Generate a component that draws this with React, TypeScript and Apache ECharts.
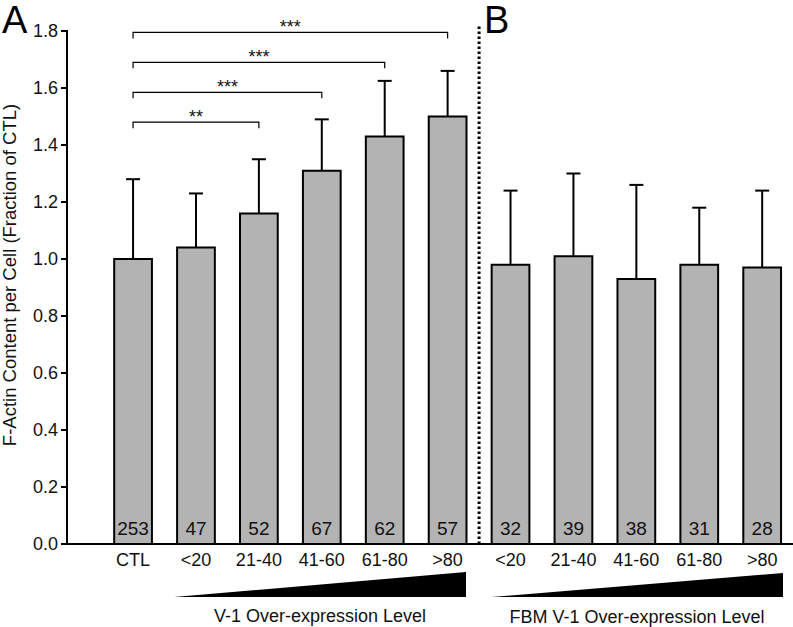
import React, { useEffect, useRef } from "react";
import * as echarts from "echarts";

// ---- data ----
const categories = ["CTL", "<20", "21-40", "41-60", "61-80", ">80", "<20", "21-40", "41-60", "61-80", ">80"];
const meanValues = [1.0, 1.04, 1.16, 1.31, 1.43, 1.5, 0.98, 1.01, 0.93, 0.98, 0.97];
const errorTops = [1.28, 1.23, 1.35, 1.49, 1.625, 1.66, 1.24, 1.3, 1.26, 1.18, 1.24];
const cellCounts = [253, 47, 52, 67, 62, 57, 32, 39, 38, 31, 28];
const bracketFrom = [0, 0, 0, 0];
const bracketTo = [2, 3, 4, 5];
const bracketLevel = [1.48, 1.585, 1.69, 1.795];
const bracketLabels = ["**", "***", "***", "***"];
const panelDivider = [5.5];
const panelLabels = ["A", "B"];
const groupTitles = ["V-1 Over-expression Level", "FBM V-1 Over-expression Level"];
const yAxisTitle = "F-Actin Content per Cell (Fraction of CTL)";

const X_MIN = -1.05;
const X_MAX = 10.49;
const Y_MIN = 0;
const Y_MAX = 1.8;

const FONT = '"Liberation Sans", Arial, Helvetica, sans-serif';

export default function App() {
  const ref = useRef<HTMLDivElement>(null);

  useEffect(() => {
    document.body.style.margin = "0";
    document.body.style.overflow = "hidden";
    if (!ref.current) return;
    const chart = echarts.init(ref.current, undefined, { renderer: "svg" });

    const barData = categories.map((_, i) => [i, meanValues[i], errorTops[i], cellCounts[i]]);
    const bracketData = bracketFrom.map((f, i) => [f, bracketTo[i], bracketLevel[i]]);

    const option: any = {
      animation: false,
      backgroundColor: "#ffffff",
      grid: { left: 67, right: 0, top: 31, bottom: 83, containLabel: false },
      xAxis: {
        type: "value",
        min: X_MIN,
        max: X_MAX,
        splitLine: { show: false },
        axisTick: { show: false },
        axisLine: { show: true, onZero: false, lineStyle: { color: "#000", width: 2 } },
        axisLabel: {
          customValues: categories.map((_, i) => i),
          formatter: (v: number) => categories[Math.round(v)] ?? "",
          fontSize: 18,
          fontFamily: FONT,
          color: "#111",
          margin: 7,
        },
      },
      yAxis: {
        type: "value",
        min: Y_MIN,
        max: Y_MAX,
        interval: 0.2,
        splitLine: { show: false },
        axisLine: { show: true, onZero: false, lineStyle: { color: "#000", width: 2 } },
        axisTick: { show: true, length: 6, lineStyle: { color: "#000", width: 2 } },
        axisLabel: {
          formatter: (v: number) => v.toFixed(1),
          fontSize: 18,
          fontFamily: FONT,
          color: "#111",
          margin: 9,
        },
      },
      series: [
        {
          type: "custom",
          name: "yAxisLine",
          data: [[X_MIN, Y_MIN]],
          clip: false,
          silent: true,
          renderItem: (params: any, api: any) => {
            const p0 = api.coord([X_MIN, Y_MIN]);
            const p1 = api.coord([X_MIN, Y_MAX]);
            return {
              type: "line",
              shape: { x1: p0[0], y1: p0[1] + 1, x2: p1[0], y2: p1[1] - 1 },
              style: { stroke: "#000", lineWidth: 2 },
            };
          },
        },
        {
          type: "custom",
          name: "bars",
          data: barData,
          clip: false,
          renderItem: (params: any, api: any) => {
            const idx = api.value(0);
            const val = api.value(1);
            const err = api.value(2);
            const n = api.value(3);
            const base = api.coord([idx, 0]);
            const top = api.coord([idx, val]);
            const et = api.coord([idx, err]);
            const w = api.size([0.6, 0])[0];
            const cap = 7;
            return {
              type: "group",
              children: [
                {
                  type: "line",
                  shape: { x1: top[0], y1: top[1], x2: et[0], y2: et[1] },
                  style: { stroke: "#000", lineWidth: 2 },
                },
                {
                  type: "line",
                  shape: { x1: et[0] - cap, y1: et[1], x2: et[0] + cap, y2: et[1] },
                  style: { stroke: "#000", lineWidth: 2 },
                },
                {
                  type: "rect",
                  shape: { x: base[0] - w / 2, y: top[1], width: w, height: base[1] - top[1] },
                  style: { fill: "#b3b3b3", stroke: "#000", lineWidth: 2 },
                },
                {
                  type: "text",
                  x: base[0],
                  y: base[1] - 16,
                  style: {
                    text: String(n),
                    align: "center",
                    verticalAlign: "middle",
                    fontSize: 19,
                    fontFamily: FONT,
                    fill: "#111",
                  },
                },
              ],
            };
          },
        },
        {
          type: "custom",
          name: "significance",
          data: bracketData,
          clip: false,
          renderItem: (params: any, api: any) => {
            const a = api.coord([api.value(0), api.value(2)]);
            const b = api.coord([api.value(1), api.value(2)]);
            const drop = 6;
            return {
              type: "group",
              children: [
                {
                  type: "polyline",
                  shape: {
                    points: [
                      [a[0], a[1] + drop],
                      [a[0], a[1]],
                      [b[0], b[1]],
                      [b[0], b[1] + drop],
                    ],
                  },
                  style: { stroke: "#000", lineWidth: 1.2, fill: null },
                },
                {
                  type: "text",
                  x: (a[0] + b[0]) / 2,
                  y: a[1] - 5,
                  style: {
                    text: bracketLabels[params.dataIndex],
                    align: "center",
                    verticalAlign: "middle",
                    fontSize: 18,
                    fontFamily: FONT,
                    fill: "#111",
                  },
                },
              ],
            };
          },
        },
        {
          type: "custom",
          name: "divider",
          data: panelDivider.map((d) => [d, 0]),
          clip: false,
          renderItem: (params: any, api: any) => {
            const bottom = api.coord([api.value(0), 0]);
            const top = api.coord([api.value(0), 1.8]);
            return {
              type: "line",
              shape: { x1: bottom[0], y1: bottom[1], x2: top[0], y2: top[1] - 7 },
              style: { stroke: "#000", lineWidth: 3, lineDash: [2.5, 2.5], lineCap: "butt" },
            };
          },
        },
      ],
      graphic: [
        {
          type: "text",
          left: 2,
          top: 1,
          style: { text: panelLabels[0], fontSize: 38, fontFamily: FONT, fill: "#000" },
        },
        {
          type: "text",
          left: 484,
          top: 1,
          style: { text: panelLabels[1], fontSize: 38, fontFamily: FONT, fill: "#000" },
        },
        {
          type: "text",
          x: 9,
          y: 275,
          rotation: Math.PI / 2,
          style: {
            text: yAxisTitle,
            align: "center",
            verticalAlign: "middle",
            fontSize: 18.5,
            fontFamily: FONT,
            fill: "#111",
          },
        },
        {
          type: "polygon",
          shape: { points: [[174, 597], [466, 572], [466, 597]] },
          style: { fill: "#000" },
        },
        {
          type: "polygon",
          shape: { points: [[492, 597], [783, 573], [783, 597]] },
          style: { fill: "#000" },
        },
        {
          type: "text",
          x: 320,
          y: 616,
          style: {
            text: groupTitles[0],
            align: "center",
            verticalAlign: "middle",
            fontSize: 18,
            fontFamily: FONT,
            fill: "#111",
          },
        },
        {
          type: "text",
          x: 637,
          y: 617,
          style: {
            text: groupTitles[1],
            align: "center",
            verticalAlign: "middle",
            fontSize: 18,
            fontFamily: FONT,
            fill: "#111",
          },
        },
      ],
    };

    chart.setOption(option);
    return () => chart.dispose();
  }, []);

  return <div ref={ref} style={{ width: 793, height: 627, overflow: "hidden" }} />;
}
